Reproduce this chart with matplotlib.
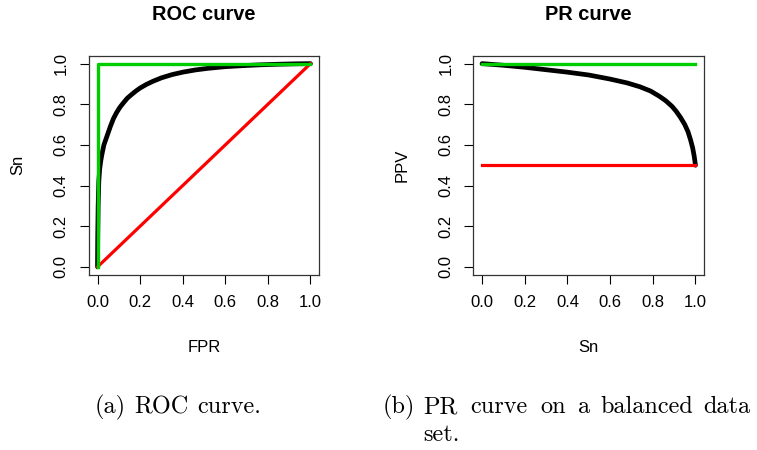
import matplotlib
matplotlib.use("Agg")
import matplotlib.pyplot as plt

plt.rcParams['font.family'] = ['Liberation Sans', 'DejaVu Sans']

# ROC curve (black)
roc_fpr = [0, 0.001, 0.003, 0.006, 0.01, 0.015, 0.02, 0.03, 0.04, 0.05, 0.06,
           0.075, 0.09, 0.105, 0.12, 0.14, 0.16, 0.18, 0.2, 0.23, 0.26, 0.3,
           0.35, 0.4, 0.46, 0.52, 0.6, 0.68, 0.76, 0.85, 0.93, 1.0]
roc_sn = [0, 0.15, 0.3, 0.42, 0.48, 0.52, 0.55, 0.6, 0.63, 0.66, 0.69,
          0.73, 0.76, 0.785, 0.805, 0.83, 0.848, 0.865, 0.88, 0.898, 0.913, 0.93,
          0.946, 0.958, 0.969, 0.977, 0.985, 0.99, 0.994, 0.997, 0.999, 1.0]
roc_best_x = [0, 0, 1]
roc_best_y = [0, 1, 1]
roc_rand_x = [0, 1]
roc_rand_y = [0, 1]

# PR curve (black)
pr_sn = [0, 0.1, 0.2, 0.3, 0.4, 0.5, 0.6, 0.68, 0.74, 0.79, 0.83, 0.86, 0.89,
         0.91, 0.93, 0.95, 0.965, 0.977, 0.987, 0.994, 1.0]
pr_ppv = [1.0, 0.992, 0.982, 0.97, 0.958, 0.944, 0.924, 0.905, 0.886, 0.865,
          0.84, 0.818, 0.79, 0.765, 0.735, 0.7, 0.665, 0.625, 0.585, 0.545, 0.5]
pr_best_x = [0, 1]
pr_best_y = [1, 1]
pr_rand_x = [0, 1]
pr_rand_y = [0.5, 0.5]

ticks = [0.0, 0.2, 0.4, 0.6, 0.8, 1.0]
tick_labels = ["0.0", "0.2", "0.4", "0.6", "0.8", "1.0"]

# caption words with their left edge (pixels) and baseline (pixels)
caption_words = [
    ("(a)", 95, 413), ("ROC", 134, 413), ("curve.", 197, 413),
    ("(b)", 383, 413), ("PR", 423, 413), ("curve", 470, 413), ("on", 540, 413),
    ("a", 578, 413), ("balanced", 600, 413), ("data", 703, 413),
    ("set.", 423, 441),
]

green = "#00cd00"
red = "#ff0000"

W, H = 757, 450
fig = plt.figure(figsize=(W / 100, H / 100), dpi=100)


def px_axes(left, top, right, bottom):
    return fig.add_axes([left / W, 1 - bottom / H, (right - left) / W, (bottom - top) / H])


def style(ax, title, xlabel, ylabel):
    ax.set_xlim(-0.04, 1.04)
    ax.set_ylim(-0.04, 1.04)
    ax.set_xticks(ticks)
    ax.set_xticklabels(tick_labels)
    ax.set_yticks(ticks)
    ax.set_yticklabels(tick_labels, rotation=90, va='center')
    ax.tick_params(direction='out', length=6.5, width=0.8, labelsize=12, pad=8)
    for s in ax.spines.values():
        s.set_linewidth(0.9)
        s.set_color('#333333')
    ax.text(0.5, 1.185, title, transform=ax.transAxes, ha='center', va='center',
            fontsize=14.4, fontweight='bold')
    ax.set_xlabel(xlabel, fontsize=12)
    ax.xaxis.set_label_coords(0.5, -73 / 219.5)
    ax.xaxis.label.set_va('center')
    ax.set_ylabel(ylabel, fontsize=12)
    ax.yaxis.set_label_coords(-71 / 230, 0.5)
    ax.yaxis.label.set_va('center')


ax1 = px_axes(89, 55.5, 319, 275)
ax1.plot(roc_fpr, roc_sn, color='black', lw=3.4, solid_capstyle='round')
ax1.plot(roc_rand_x, roc_rand_y, color=red, lw=2.3)
ax1.plot(roc_best_x, roc_best_y, color=green, lw=2.4)
style(ax1, "ROC curve", "FPR", "Sn")

ax2 = px_axes(473.5, 55.5, 704, 275)
ax2.plot(pr_sn, pr_ppv, color='black', lw=3.4, solid_capstyle='round')
ax2.plot(pr_rand_x, pr_rand_y, color=red, lw=2.3)
ax2.plot(pr_best_x, pr_best_y, color=green, lw=2.4)
style(ax2, "PR curve", "Sn", "PPV")

# captions below the panels (justified like the LaTeX source)
for word, x, y in caption_words:
    fig.text(x / W, 1 - y / H, word, fontfamily='cmr10', fontsize=17.5,
             ha='left', va='baseline')

fig.savefig("out.png", dpi=100)
